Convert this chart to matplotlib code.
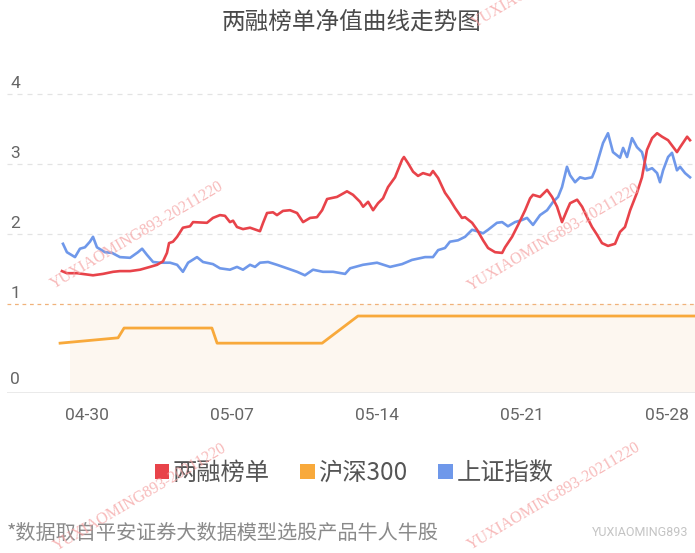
import numpy as np
import matplotlib
matplotlib.use("Agg")
import matplotlib.pyplot as plt
from matplotlib.patches import Patch
from matplotlib.scale import FuncScale

plt.rcParams['font.family'] = ['Noto Sans CJK SC', 'DejaVu Sans']

title = "两融榜单净值曲线走势图"
series_names = ["两融榜单", "沪深300", "上证指数"]
tick_days = [0, 7, 14, 21, 28]
tick_labels = ["04-30", "05-07", "05-14", "05-21", "05-28"]
y_ticks = [0, 1, 2, 3, 4]

# days relative to 04-30
red_x = [-1.21, -0.97, -0.48, 0.29, 0.77, 1.26, 1.59, 2.08, 2.56, 3.04, 3.38, 3.67, 3.86, 3.96,
         4.15, 4.35, 4.63, 4.97, 5.12, 5.79, 6.08, 6.42, 6.66, 6.90, 7.05, 7.24, 7.53, 7.87,
         8.35, 8.50, 8.69, 8.98, 9.17, 9.46, 9.80, 10.14, 10.43, 10.77, 11.10, 11.35, 11.59,
         12.07, 12.55, 12.84, 13.18, 13.33, 13.57, 13.81, 14.05, 14.29, 14.53, 14.87, 15.21,
         15.30, 15.50, 15.74, 15.98, 16.22, 16.56, 16.70, 16.95, 17.28, 17.52, 17.77, 18.10,
         18.25, 18.59, 18.83, 19.12, 19.36, 19.70, 20.04, 20.18, 20.52, 20.81, 21.15, 21.39,
         21.53, 21.87, 22.21, 22.45, 22.69, 22.93, 23.17, 23.32, 23.66, 23.90, 24.14, 24.38,
         24.62, 24.86, 25.15, 25.49, 25.73, 25.97, 26.22, 26.55, 26.79, 27.03, 27.28, 27.52,
         27.76, 28.05, 28.48, 28.63, 28.97, 29.11]
red_y = [1.47, 1.44, 1.44, 1.41, 1.43, 1.46, 1.47, 1.47, 1.49, 1.53, 1.56, 1.61, 1.73, 1.87,
         1.89, 1.96, 2.09, 2.11, 2.17, 2.16, 2.23, 2.27, 2.26, 2.17, 2.19, 2.10, 2.07, 2.09,
         2.04, 2.16, 2.30, 2.31, 2.27, 2.33, 2.34, 2.30, 2.17, 2.23, 2.24, 2.34, 2.50,
         2.53, 2.61, 2.56, 2.46, 2.39, 2.46, 2.34, 2.44, 2.51, 2.67, 2.81, 3.06,
         3.10, 3.01, 2.89, 2.83, 2.87, 2.84, 2.90, 2.80, 2.59, 2.49, 2.37, 2.23,
         2.24, 2.16, 2.06, 1.91, 1.80, 1.74, 1.73, 1.81, 1.96, 2.13, 2.34, 2.51,
         2.56, 2.53, 2.63, 2.53, 2.39, 2.17, 2.34, 2.44, 2.49, 2.39, 2.24, 2.10,
         1.99, 1.87, 1.83, 1.86, 2.03, 2.10, 2.34, 2.59, 2.81, 3.20, 3.37, 3.44,
         3.39, 3.34, 3.17, 3.24, 3.39, 3.34]

blue_x = [-1.16, -0.97, -0.58, -0.34, -0.10, 0.14, 0.29, 0.48, 0.87, 1.21, 1.59, 2.08, 2.46,
          2.66, 2.90, 3.19, 3.52, 4.01, 4.35, 4.63, 4.88, 5.31, 5.60, 6.08, 6.42, 6.90, 7.24,
          7.53, 7.87, 8.11, 8.35, 8.74, 9.17, 9.66, 10.14, 10.52, 10.91, 11.39, 11.88, 12.46,
          12.70, 13.32, 14.00, 14.63, 15.21, 15.69, 16.32, 16.70, 16.95, 17.28, 17.52, 17.91,
          18.25, 18.59, 18.83, 19.12, 19.36, 19.79, 20.04, 20.32, 20.66, 21.00, 21.24, 21.53,
          21.87, 22.21, 22.50, 22.74, 22.93, 23.17, 23.32, 23.56, 23.80, 24.04, 24.38, 24.52,
          24.77, 24.91, 25.15, 25.39, 25.73, 25.88, 26.07, 26.31, 26.55, 26.79, 27.03, 27.28,
          27.52, 27.66, 27.81, 28.05, 28.24, 28.48, 28.63, 28.87, 29.11]
blue_y = [1.86, 1.74, 1.67, 1.79, 1.81, 1.89, 1.96, 1.81, 1.74, 1.73, 1.67, 1.66, 1.74,
          1.79, 1.70, 1.60, 1.59, 1.59, 1.56, 1.46, 1.59, 1.67, 1.60, 1.57, 1.51, 1.49, 1.53,
          1.49, 1.56, 1.53, 1.59, 1.60, 1.56, 1.51, 1.46, 1.41, 1.49, 1.46, 1.46, 1.43,
          1.51, 1.56, 1.59, 1.53, 1.57, 1.63, 1.67, 1.67, 1.77, 1.80, 1.89, 1.91,
          1.96, 2.06, 2.04, 2.01, 2.06, 2.16, 2.17, 2.11, 2.17, 2.20, 2.23, 2.13,
          2.27, 2.34, 2.46, 2.53, 2.67, 2.96, 2.84, 2.74, 2.81, 2.79, 2.81, 2.91,
          3.16, 3.30, 3.44, 3.17, 3.09, 3.23, 3.10, 3.37, 3.24, 3.17, 2.91, 2.94,
          2.87, 2.74, 2.91, 3.10, 3.16, 2.91, 2.96, 2.87, 2.81]

orange_x = [-1.30, 1.50, 1.79, 6.03, 6.28, 11.35, 13.08, 29.35]
orange_y = [0.56, 0.62, 0.73, 0.73, 0.56, 0.56, 0.865, 0.865]

red_c = "#e8434a"
orange_c = "#f8a93b"
blue_c = "#6f98ea"

W, H = 695, 553
fig = plt.figure(figsize=(W / 100, H / 100), dpi=100)
ax = fig.add_axes([7 / W, (H - 393) / H, (695 - 7) / W, (393 - 70) / H])


def fwd(v):
    v = np.asarray(v, dtype=float)
    return np.where(v < 1, v * 89 / 70, v + 19 / 70)


def inv(u):
    u = np.asarray(u, dtype=float)
    return np.where(u < 89 / 70, u * 70 / 89, u - 19 / 70)


ax.set_yscale(FuncScale(ax, (fwd, inv)))
ax.set_xlim(-3.862, 29.35)
ax.set_ylim(0, 4.343)

# background band
ax.fill_between([-0.82, 29.35], 0, 1, color="#fdf7f0", zorder=0, lw=0)

for g in [2, 3, 4]:
    ax.axhline(g, color="#e3e3e3", lw=0.9, ls=(0, (4, 4)), zorder=1)
ax.axhline(1, color="#f0b27a", lw=0.9, ls=(0, (3, 3)), zorder=1)
ax.axhline(0, color="#e6e6e6", lw=1.2, zorder=1)

ax.plot(orange_x, orange_y, color=orange_c, lw=2.0, zorder=3, solid_joinstyle="round")
ax.plot(blue_x, blue_y, color=blue_c, lw=1.9, zorder=4, solid_joinstyle="round")
ax.plot(red_x, red_y, color=red_c, lw=1.9, zorder=5, solid_joinstyle="round")

for s in ax.spines.values():
    s.set_visible(False)
ax.set_yticks([])
ax.set_xticks(tick_days)
ax.set_xticklabels(tick_labels, fontsize=12.5, color="#666666", family=["Roboto", "DejaVu Sans"])
ax.tick_params(axis="x", length=0, pad=11)

for t in y_ticks:
    off = 11 if t > 0 else 14
    ax.annotate(str(t), xy=(0.005, t), xycoords=("axes fraction", "data"),
                xytext=(0, off), textcoords="offset pixels", ha="left", va="center",
                fontsize=12.5, color="#666666", family=["Roboto", "DejaVu Sans"])

fig.text(352 / W, 1 - 22 / H, title, ha="center", va="center", fontsize=17, color="#4a4a4a")

handles = [Patch(facecolor=c, edgecolor="none") for c in (red_c, orange_c, blue_c)]
leg = fig.legend(handles, series_names, loc="center", bbox_to_anchor=(354 / W, 1 - 473 / H),
                 ncol=3, frameon=False, fontsize=17.5, handlelength=0.6, handleheight=0.6,
                 handletextpad=0.15, columnspacing=1.25, borderaxespad=0)
for t in leg.get_texts():
    t.set_color("#555555")

fig.text(7 / W, 1 - 533 / H, "*数据取自平安证券大数据模型选股产品牛人牛股", ha="left", va="center",
         fontsize=14.5, color="#8a8a8a")
fig.text(688 / W, 1 - 533 / H, "YUXIAOMING893", ha="right", va="center", fontsize=9,
         color="#c4c4c4", family=["Roboto", "DejaVu Sans"])

wm = "YUXIAOMING893-20211220"
for cx, cy in [(137, 235), (554, 237), (140, 497), (554, 496), (558, -26)]:
    fig.text(cx / W, 1 - cy / H, wm, ha="center", va="center", rotation=30.5,
             rotation_mode="anchor", fontsize=11.5, color="#f5a3a3", alpha=0.75,
             family=["Liberation Serif", "DejaVu Serif"], zorder=10)

fig.savefig("out.png", dpi=100)
